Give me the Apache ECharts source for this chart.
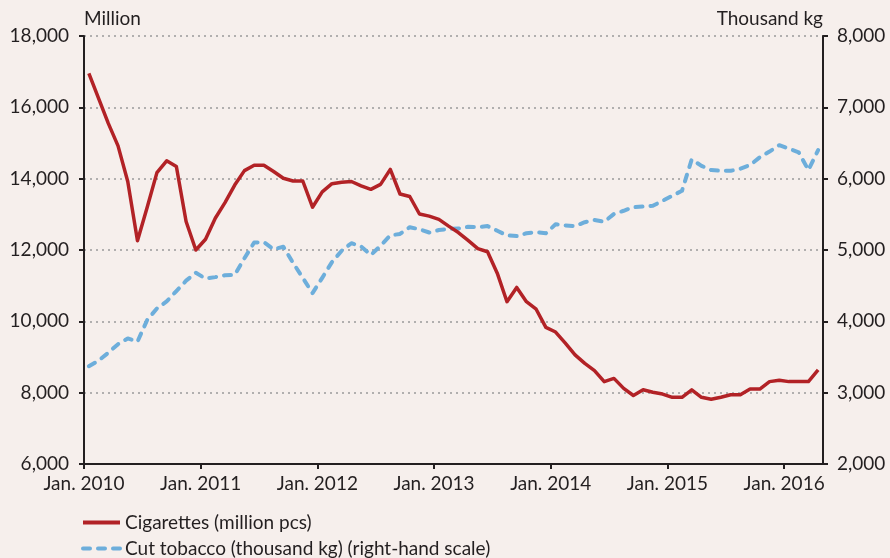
<!DOCTYPE html>
<html>
<head>
<meta charset="utf-8">
<script src="https://cdn.jsdelivr.net/npm/echarts@6/dist/echarts.min.js"></script>
<style>
  html, body { margin: 0; padding: 0; background: #f6efec; }
  #main { width: 890px; height: 558px; }
</style>
</head>
<body>
<div id="main"></div>
<script>
// monthly data, Jan. 2010 .. Apr. 2016
const cigarettes = [
  16950, 16250, 15550, 14920, 13920, 12260, 13200, 14170, 14500, 14340, 12800, 12000,
  12300, 12890, 13330, 13820, 14225, 14375, 14375, 14200, 14010, 13935, 13935, 13200,
  13630, 13860, 13900, 13920, 13800, 13700, 13840, 14260, 13570, 13500, 13010, 12950,
  12860, 12670, 12490, 12270, 12040, 11950, 11350, 10550, 10950, 10550, 10340, 9830,
  9700, 9390, 9060, 8820, 8620, 8310, 8400, 8120, 7920, 8080, 8010, 7960,
  7870, 7870, 8080, 7870, 7815, 7870, 7940, 7940, 8100, 8100, 8310, 8350,
  8310, 8310, 8310, 8640
]
const cutTobacco = [
  3370, 3450, 3560, 3680, 3760, 3715, 4020, 4180, 4280, 4425, 4570, 4680,
  4600, 4620, 4645, 4650, 4885, 5105, 5110, 5010, 5045, 4820, 4610, 4395,
  4610, 4830, 4990, 5095, 5050, 4930, 5060, 5205, 5225, 5320, 5290, 5245,
  5280, 5295, 5300, 5325, 5320, 5335, 5270, 5205, 5195, 5235, 5250, 5235,
  5360, 5345, 5335, 5390, 5420, 5395, 5505, 5550, 5600, 5610, 5620, 5690,
  5760, 5830, 6270, 6180, 6120, 6110, 6110, 6140, 6190, 6300, 6380, 6470,
  6420, 6370, 6120, 6400
]
const xTickLabels = ['Jan. 2010', 'Jan. 2011', 'Jan. 2012', 'Jan. 2013', 'Jan. 2014', 'Jan. 2015', 'Jan. 2016']
const seriesNames = ['Cigarettes (million pcs)', 'Cut tobacco (thousand kg) (right-hand scale)']

// x = month index, point in the middle of its month
const toPoints = arr => arr.map((v, i) => [i + 0.5, v])
const fmt = v => v.toLocaleString('en-US')

const font = 'Lato'
const ink = '#231f20'
const fs = 19

const myChart = echarts.init(document.getElementById('main'))
myChart.setOption({
  backgroundColor: '#f6efec',
  textStyle: { fontFamily: font, color: ink },
  animation: false,
  grid: { left: 84, right: 67, top: 36, bottom: 94 },
  legend: {
    orient: 'vertical',
    left: 81,
    top: 513,
    height: 60,
    padding: 0,
    itemWidth: 37,
    itemHeight: 14,
    itemGap: 7,
    itemStyle: { opacity: 0 },
    lineStyle: { width: 4 },
    textStyle: { fontFamily: font, fontSize: fs, color: ink },
    data: seriesNames
  },
  xAxis: {
    type: 'value',
    min: 0,
    max: 76,
    splitLine: { show: false },
    axisLine: { lineStyle: { color: ink, width: 2 } },
    axisTick: {
      customValues: [0, 12, 24, 36, 48, 60, 72],
      length: 5,
      lineStyle: { color: ink, width: 2 }
    },
    axisLabel: {
      customValues: [0, 12, 24, 36, 48, 60, 72],
      formatter: v => xTickLabels[v / 12],
      fontSize: fs,
      color: ink,
      margin: 10
    }
  },
  yAxis: [
    {
      type: 'value',
      min: 6000,
      max: 18000,
      interval: 2000,
      name: 'Million',
      nameLocation: 'end',
      nameGap: 8,
      nameTextStyle: { align: 'left', fontSize: fs, color: ink, fontFamily: font },
      axisLine: { show: true, lineStyle: { color: ink, width: 2 } },
      axisTick: { show: true, length: 5, lineStyle: { color: ink, width: 2 } },
      axisLabel: { formatter: fmt, fontSize: fs, color: ink, margin: 15 },
      splitLine: { lineStyle: { color: '#9a9a9a', type: [2, 4], width: 1.5 } }
    },
    {
      type: 'value',
      min: 2000,
      max: 8000,
      interval: 1000,
      name: 'Thousand kg',
      nameLocation: 'end',
      nameGap: 8,
      nameTextStyle: { align: 'right', fontSize: fs, color: ink, fontFamily: font },
      axisLine: { show: true, lineStyle: { color: ink, width: 2 } },
      axisTick: { show: true, length: 5, lineStyle: { color: ink, width: 2 } },
      axisLabel: { formatter: fmt, fontSize: fs, color: ink, margin: 14 },
      splitLine: { show: false }
    }
  ],
  series: [
    {
      name: seriesNames[0],
      type: 'line',
      yAxisIndex: 0,
      symbol: 'none',
      data: toPoints(cigarettes),
      itemStyle: { color: '#b22226' },
      lineStyle: { color: '#b22226', width: 3.5, join: 'round' },
      z: 3
    },
    {
      name: seriesNames[1],
      type: 'line',
      yAxisIndex: 1,
      symbol: 'none',
      data: toPoints(cutTobacco),
      itemStyle: { color: '#6daedb' },
      lineStyle: { color: '#6daedb', width: 4, type: [7, 8], cap: 'round', join: 'round' },
      z: 2
    }
  ]
})
</script>
</body>
</html>
